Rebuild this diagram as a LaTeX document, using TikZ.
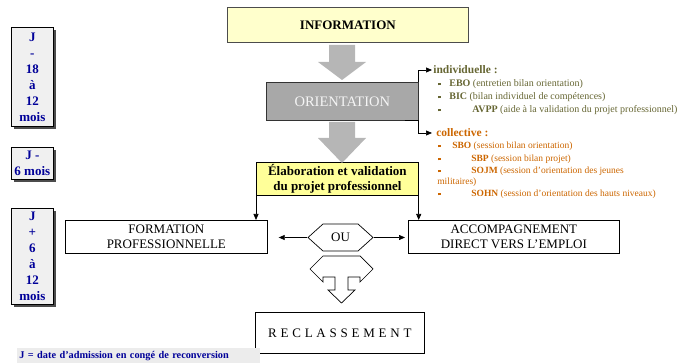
\documentclass[tikz,border=0pt]{standalone}
\usepackage{fontspec}
\setmainfont{Liberation Serif}
\usetikzlibrary{arrows.meta}
\usetikzlibrary{shapes.symbols}
\usetikzlibrary{shadows}
\usetikzlibrary{positioning}

\definecolor{infoyellow}{RGB}{255,255,204}
\definecolor{elabyellow}{RGB}{255,255,153}
\definecolor{orientgray}{RGB}{168,168,168}
\definecolor{arrowgray}{RGB}{182,182,182}
\definecolor{indivcol}{RGB}{102,102,51}
\definecolor{collcol}{RGB}{204,102,0}
\definecolor{jblue}{RGB}{0,0,153}

\newcommand{\sqbul}{\rule[1.5pt]{2.5pt}{2.5pt}}

\tikzset{
  stagebox/.style={draw, anchor=north west, align=center, inner sep=0pt,
    font=\fontsize{13}{15}\selectfont},
  jbox/.style={draw, anchor=north west, align=center, inner sep=0pt,
    fill=gray!12, text=jblue, minimum width=42pt,
    font=\bfseries\fontsize{13}{16}\selectfont,
    drop shadow={shadow xshift=3pt, shadow yshift=-3pt, fill=black!70, opacity=1}},
  itemline/.style={anchor=base west, inner sep=0pt, font=\fontsize{9.5}{11}\selectfont},
  headline/.style={anchor=west, inner sep=0pt, font=\bfseries\fontsize{11.5}{13}\selectfont},
}

\begin{document}
\begin{tikzpicture}[x=1pt, y=-1pt, line width=0.7pt, >={Triangle[length=6pt,width=5pt]}]
  \useasboundingbox (0,0) rectangle (688,363);

  % time scale on the left
  \node[jbox, minimum height=99pt] (jfirst) at (11,27) {J\\-\\18\\à\\12\\mois};
  \node[jbox, minimum height=32pt] (jsecond) at (11,147) {J -\\6 mois};
  \node[jbox, minimum height=96pt] (jthird) at (11,208) {J\\+\\6\\à\\12\\mois};

  % main stages
  \node[stagebox, fill=infoyellow, draw=gray!60!black, minimum width=241pt, minimum height=35pt,
    font=\bfseries\fontsize{13}{15}\selectfont] (info) at (227,7) {INFORMATION};
  \node[stagebox, fill=orientgray, draw=gray!40!black, text=gray!8, minimum width=152pt,
    minimum height=38pt, font=\fontsize{14.5}{16}\selectfont] (orient) at (266,82) {ORIENTATION};
  \node[stagebox, fill=elabyellow, minimum width=162pt, minimum height=33pt,
    font=\bfseries\fontsize{13}{15}\selectfont] (elab) at (256,162) {Élaboration et validation\\du projet professionnel};
  \node[stagebox, minimum width=202pt, minimum height=33pt] (form) at (65,220) {FORMATION\\PROFESSIONNELLE};
  \node[stagebox, minimum width=211pt, minimum height=33pt] (accomp) at (408,220) {ACCOMPAGNEMENT\\DIRECT VERS L’EMPLOI};
  \node[signal, signal to=west and east, signal pointer angle=84, draw, inner sep=0pt,
    minimum width=65pt, minimum height=27pt, font=\fontsize{13}{15}\selectfont] (ou) at (340.5,237.5) {OU};
  \node[stagebox, minimum width=169pt, minimum height=41pt,
    font=\fontsize{13}{15}\selectfont\addfontfeature{LetterSpace=29}] (reclass) at (255,312) {RECLASSEMENT};

  % gray block arrows
  \fill[arrowgray] (329,45) -- (355,45) -- (355,62) -- (366,62) -- (342,80) -- (318,62) -- (329,62) -- cycle;
  \fill[arrowgray] (329,122) -- (355,122) -- (355,138) -- (366,138) -- (342,163) -- (318,138) -- (329,138) -- cycle;

  % three way arrow
  \draw[fill=white] (323,256) -- (310,269) -- (323,282) -- (323,277) -- (335,277) -- (335,290) -- (328,290)
    -- (341.5,303) -- (355,290) -- (348,290) -- (348,277) -- (360,277) -- (360,282) -- (373,269) -- (360,256) -- cycle;

  % orientation details
  \node[headline, text=indivcol] (indiv) at (433,70) {individuelle :};
  \begin{scope}[itemline/.append style={font=\fontsize{10}{12}\selectfont}]
  \node[itemline, text=indivcol] (ebo) at (438,87) {\makebox[11pt][l]{\sqbul}\textbf{EBO} (entretien bilan orientation)};
  \node[itemline, text=indivcol] (bic) at (438,100) {\makebox[11pt][l]{\sqbul}\textbf{BIC} (bilan individuel de compétences)};
  \node[itemline, text=indivcol] (avpp) at (438,113) {\makebox[34pt][l]{\sqbul}\textbf{AVPP} (aide à la validation du projet professionnel)};
  \end{scope}
  \node[headline, text=collcol] (coll) at (436,133) {collective :};
  \node[itemline, text=collcol] (sbo) at (438,149) {\makebox[14pt][l]{\sqbul}\textbf{SBO} (session bilan orientation)};
  \node[itemline, text=collcol] (sbp) at (438,162) {\makebox[33pt][l]{\sqbul}\textbf{SBP} (session bilan projet)};
  \node[itemline, text=collcol] (sojm) at (438,174) {\makebox[33pt][l]{\sqbul}\textbf{SOJM} (session d’orientation des jeunes};
  \node[itemline, text=collcol] (milit) at (437,185) {militaires)};
  \node[itemline, text=collcol] (sohn) at (438,197) {\makebox[33pt][l]{\sqbul}\textbf{SOHN} (session d’orientation des hauts niveaux)};

  % connectors
  \draw[->, shorten >=1pt] (orient.north east) |- (indiv.west);
  \draw[->, shorten >=4pt] ([xshift=-14pt]orient.south east) -- (orient.south east) |- (coll.west);
  \draw[->] (elab.south west) -- (elab.south west |- form.north);
  \draw[->] (elab.south east) -- (elab.south east |- accomp.north);
  \draw[->, shorten >=11pt] (ou.west) -- (form.east |- ou.west);
  \draw[->, shorten >=3pt] (ou.east) -- (accomp.west |- ou.east);

  % legend
  \node[anchor=north west, fill=gray!15, text=jblue, font=\bfseries\fontsize{10.3}{11}\selectfont,
    minimum height=15pt, text width=239pt, inner xsep=2pt, inner ysep=0pt, align=left] (legend) at (17,348)
    {J = date d’admission en congé de reconversion};
\end{tikzpicture}
\end{document}
